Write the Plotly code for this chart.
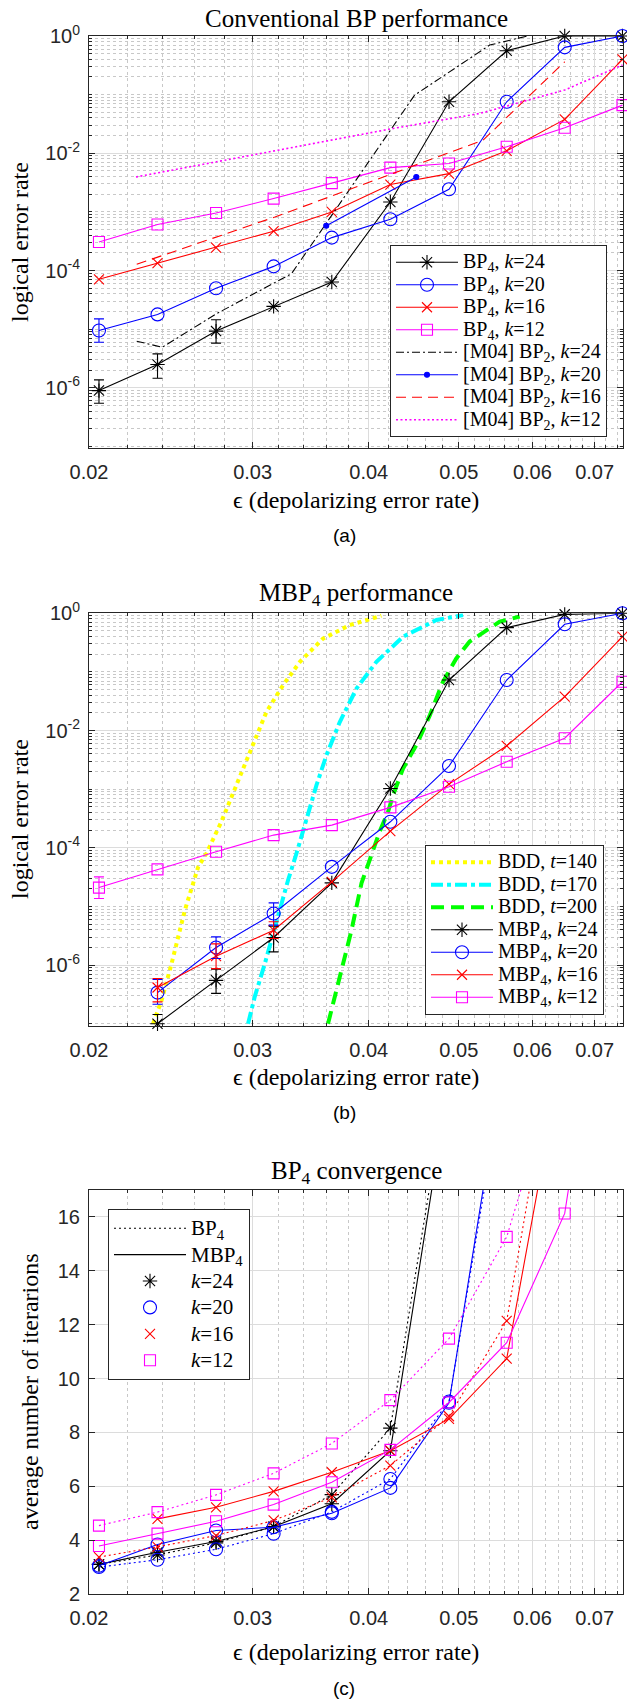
import math
import plotly.graph_objects as go

# ---------------------------------------------------------------------------
# Data
# ---------------------------------------------------------------------------
# depolarizing error rates used by the BP4 / MBP4 simulations
eps = [0.0205, 0.0237, 0.0274, 0.0316, 0.0365, 0.0422, 0.0488, 0.0563, 0.0650, 0.0750]

# (a) conventional BP4, logical error rate
bp4_k24 = [9.0e-7, 2.5e-6, 9.3e-6, 2.45e-5, 6.4e-5, 1.48e-3, 0.0755, 0.561, 1.0, 1.0]
bp4_k20 = [9.5e-6, 1.79e-5, 5.0e-5, 1.18e-4, 3.65e-4, 7.5e-4, 2.44e-3, 0.0755, 0.64, 1.0]
bp4_k16 = [7.1e-5, 1.34e-4, 2.46e-4, 4.7e-4, 1.0e-3, 2.93e-3, 4.5e-3, 0.011, 0.0378, 0.40]
bp4_k12 = [3.07e-4, 6.1e-4, 9.6e-4, 1.69e-3, 3.1e-3, 5.7e-3, 6.7e-3, 0.0129, 0.0272, 0.0663]

# confidence intervals (first points only)
bp4_k24_hi = [1.37e-6, 3.8e-6, 1.45e-5]
bp4_k24_lo = [5.46e-7, 1.46e-6, 5.8e-6]
bp4_k20_hi = [1.5e-5]
bp4_k20_lo = [6.0e-6]

# [M04] BP2 reference curves
m04_k24_eps = [0.02251, 0.02399, 0.02743, 0.03303, 0.04481, 0.05398, 0.0593]
m04_k24 = [6.25e-6, 4.94e-6, 1.84e-5, 8.85e-5, 0.098, 0.70, 1.0]
m04_k20_eps = [0.0360, 0.0450]
m04_k20 = [5.8e-4, 3.95e-3]
m04_k16_eps = [0.02251, 0.0317, 0.0531, 0.0650]
m04_k16 = [1.28e-4, 8.2e-4, 0.01675, 0.364]
m04_k12_eps = [0.02247, 0.0313, 0.0425, 0.0527, 0.0650, 0.0750]
m04_k12 = [3.95e-3, 0.01056, 0.0265, 0.0479, 0.12, 0.32]

# (b) MBP4, logical error rate
mbp4_k24 = [1.0e-7, 5.5e-7, 2.96e-6, 2.53e-5, 1.03e-3, 0.0728, 0.57, 0.96, 1.0]
mbp4_k20 = [3.4e-7, 2.0e-6, 7.6e-6, 4.74e-5, 2.78e-4, 2.48e-3, 0.0728, 0.65, 1.0]
mbp4_k16 = [4.15e-7, 1.42e-6, 3.94e-6, 2.63e-5, 1.93e-4, 1.22e-3, 5.5e-3, 0.0378, 0.40]
mbp4_k12 = [2.1e-5, 4.3e-5, 8.6e-5, 1.65e-4, 2.44e-4, 4.9e-4, 1.1e-3, 2.94e-3, 7.4e-3, 0.068]

mbp4_k24_hi = [1.44e-7, 8.5e-7, 4.6e-6]
mbp4_k24_lo = [7.0e-8, 3.3e-7, 1.68e-6]
mbp4_k20_hi = [5.7e-7, 3.03e-6, 1.15e-5]
mbp4_k20_lo = [2.15e-7, 1.3e-6, 4.8e-6]
mbp4_k16_hi = [5.9e-7, 2.3e-6, 5.5e-6]
mbp4_k16_lo = [2.36e-7, 8.7e-7, 2.85e-6]
mbp4_k12_hi = [3.2e-5]
mbp4_k12_lo = [1.37e-5]

# bounded-distance decoding curves
bdd140_eps = [0.02344, 0.02394, 0.02454, 0.02536, 0.02621, 0.02675, 0.02776, 0.02882,
              0.02979, 0.03105, 0.03236, 0.03373, 0.03571, 0.03816, 0.04127]
bdd140 = [1.0e-7, 2.5e-7, 1.06e-6, 8.6e-6, 4.7e-5, 8.0e-5, 2.78e-4, 1.17e-3,
          4.3e-3, 0.021, 0.06, 0.149, 0.37, 0.63, 0.91]
bdd170_eps = [0.02966, 0.03016, 0.03092, 0.03182, 0.03275, 0.03344, 0.03428, 0.03514,
              0.03602, 0.03723, 0.0388, 0.04077, 0.04355, 0.04731, 0.05053]
bdd170 = [1.0e-7, 2.9e-7, 1.06e-6, 5.8e-6, 2.8e-5, 8.0e-5, 3.2e-4, 1.17e-3,
          3.8e-3, 0.014, 0.052, 0.149, 0.40, 0.77, 0.93]
bdd200_eps = [0.03616, 0.03661, 0.03738, 0.03832, 0.03929, 0.04043, 0.0411, 0.04196,
              0.04248, 0.04355, 0.04502, 0.04652, 0.04807, 0.04969, 0.05136, 0.05533, 0.05814]
bdd200 = [1.0e-7, 2.2e-7, 8.2e-7, 3.9e-6, 2.5e-5, 9.8e-5, 1.9e-4, 4.1e-4,
          7.9e-4, 2.26e-3, 5.7e-3, 0.018, 0.068, 0.17, 0.33, 0.72, 0.88]

# (c) average number of iterations
bp4_it_k24 = [3.1, 3.45, 3.9, 4.5, 5.69, 8.16, 21.5]
mbp4_it_k24 = [3.1, 3.55, 3.95, 4.5, 5.35, 7.32, 21.05]
bp4_it_k20 = [3.0, 3.27, 3.66, 4.24, 5.05, 6.27, 9.15, 22.0]
mbp4_it_k20 = [3.05, 3.84, 4.36, 4.48, 5.0, 5.94, 9.1, 22.5]
bp4_it_k16 = [3.37, 3.75, 4.17, 4.73, 5.59, 6.77, 8.6, 12.14, 24.6]
mbp4_it_k16 = [4.79, 5.22, 5.81, 6.52, 7.32, 8.50, 10.74, 22.5]   # from eps[1]
bp4_it_k12 = [4.54, 5.04, 5.68, 6.48, 7.59, 9.2, 11.48, 15.26, 22.4]
mbp4_it_k12 = [3.78, 4.24, 4.70, 5.32, 6.15, 7.35, 9.11, 11.33, 16.13, 30.0]

x_ticks = [0.02, 0.03, 0.04, 0.05, 0.06, 0.07]
x_ticktext = ["0.02", "0.03", "0.04", "0.05", "0.06", "0.07"]
y_log_ticks = [1e-6, 1e-4, 1e-2, 1.0]
y_log_ticktext = ["10<sup>-6</sup>", "10<sup>-4</sup>", "10<sup>-2</sup>", "10<sup>0</sup>"]
y_it_ticks = [2, 4, 6, 8, 10, 12, 14, 16]

# ---------------------------------------------------------------------------
# Geometry helpers (pixel -> paper)
# ---------------------------------------------------------------------------
W, H = 627, 1700
ML, MR, MT, MB = 89, 4, 36, 106
PW = W - ML - MR
PH = H - MT - MB


def px_x(px):
    return (px - ML) / PW


def px_y(py):
    return (H - MB - py) / PH


BLACK, BLUE, RED, MAG = "#000000", "#0000ff", "#ff0000", "#ff00ff"
AXC = "#262626"
SERIF = "Liberation Serif"
SANS = "Liberation Sans"

MK = {
    "ast": dict(symbol="asterisk-open", size=12),
    "o": dict(symbol="circle-open", size=13),
    "x": dict(symbol="x-thin-open", size=10),
    "s": dict(symbol="square-open", size=11),
}


def lg(text, size=20):
    return f'<span style="font-size:{size}px">{text}</span>'


fig = go.Figure()


def series(x, y, color, mk, name, xa, ya, legend, dash="solid", width=1.1,
           showlegend=True, clip=False, mode=None, msize=None):
    marker = dict(color=color, line=dict(color=color, width=1.1))
    if mk is not None:
        marker.update(MK[mk] if isinstance(mk, str) else mk)
    if msize:
        marker["size"] = msize
    fig.add_trace(go.Scatter(
        x=x, y=y, name=name,
        mode=mode or ("lines+markers" if mk is not None else "lines"),
        line=dict(color=color, width=width, dash=dash),
        marker=marker, xaxis=xa, yaxis=ya, legend=legend,
        showlegend=showlegend, cliponaxis=clip, hoverinfo="skip"))


def errbars(x, y, hi, lo, color, xa, ya):
    fig.add_trace(go.Scatter(
        x=x, y=y, mode="markers",
        marker=dict(size=1, color="rgba(0,0,0,0)"),
        error_y=dict(type="data", symmetric=False,
                     array=[h - v for h, v in zip(hi, y)],
                     arrayminus=[v - l for v, l in zip(y, lo)],
                     color=color, thickness=1.1, width=5),
        xaxis=xa, yaxis=ya, showlegend=False, cliponaxis=False, hoverinfo="skip"))


# ---------------------------------------------------------------------------
# (a) Conventional BP performance
# ---------------------------------------------------------------------------
series(eps, bp4_k24, BLACK, "ast", lg("BP<sub>4</sub>, <i>k</i>=24"), "x", "y", "legend")
series(eps, bp4_k20, BLUE, "o", lg("BP<sub>4</sub>, <i>k</i>=20"), "x", "y", "legend")
series(eps, bp4_k16, RED, "x", lg("BP<sub>4</sub>, <i>k</i>=16"), "x", "y", "legend")
series(eps, bp4_k12, MAG, "s", lg("BP<sub>4</sub>, <i>k</i>=12"), "x", "y", "legend")
series(m04_k24_eps, m04_k24, BLACK, None, lg("[M04] BP<sub>2</sub>, <i>k</i>=24"), "x", "y",
       "legend", dash="8px,3px,2px,3px")
series(m04_k20_eps, m04_k20, BLUE, dict(symbol="circle", size=5),
       lg("[M04] BP<sub>2</sub>, <i>k</i>=20"), "x", "y", "legend")
series(m04_k16_eps, m04_k16, RED, None, lg("[M04] BP<sub>2</sub>, <i>k</i>=16"), "x", "y",
       "legend", dash="10px,6px")
series(m04_k12_eps, m04_k12, MAG, None, lg("[M04] BP<sub>2</sub>, <i>k</i>=12"), "x", "y",
       "legend", dash="2px,2.5px", width=1.6)
errbars(eps[:3], bp4_k24[:3], bp4_k24_hi, bp4_k24_lo, BLACK, "x", "y")
errbars(eps[:1], bp4_k20[:1], bp4_k20_hi, bp4_k20_lo, BLUE, "x", "y")

# ---------------------------------------------------------------------------
# (b) MBP4 performance
# ---------------------------------------------------------------------------
series(bdd140_eps, bdd140, "#ffff00", None, lg("BDD, <i>t</i>=140"), "x2", "y2", "legend2",
       dash="dot", width=4)
series(bdd170_eps, bdd170, "#00ffff", None, lg("BDD, <i>t</i>=170"), "x2", "y2", "legend2",
       dash="dashdot", width=4)
series(bdd200_eps, bdd200, "#00ff00", None, lg("BDD, <i>t</i>=200"), "x2", "y2", "legend2",
       dash="13px,7px", width=4)
series(eps[1:], mbp4_k24, BLACK, "ast", lg("MBP<sub>4</sub>, <i>k</i>=24"), "x2", "y2", "legend2")
series(eps[1:], mbp4_k20, BLUE, "o", lg("MBP<sub>4</sub>, <i>k</i>=20"), "x2", "y2", "legend2")
series(eps[1:], mbp4_k16, RED, "x", lg("MBP<sub>4</sub>, <i>k</i>=16"), "x2", "y2", "legend2")
series(eps, mbp4_k12, MAG, "s", lg("MBP<sub>4</sub>, <i>k</i>=12"), "x2", "y2", "legend2")
errbars(eps[1:4], mbp4_k24[:3], mbp4_k24_hi, mbp4_k24_lo, BLACK, "x2", "y2")
errbars(eps[1:4], mbp4_k20[:3], mbp4_k20_hi, mbp4_k20_lo, BLUE, "x2", "y2")
errbars(eps[1:4], mbp4_k16[:3], mbp4_k16_hi, mbp4_k16_lo, RED, "x2", "y2")
errbars(eps[:1], mbp4_k12[:1], mbp4_k12_hi, mbp4_k12_lo, MAG, "x2", "y2")

# ---------------------------------------------------------------------------
# (c) BP4 convergence
# ---------------------------------------------------------------------------
DOT = "2px,3px"
it_sets = [
    (bp4_it_k24, eps, mbp4_it_k24, eps, BLACK, "ast"),
    (bp4_it_k20, eps, mbp4_it_k20, eps, BLUE, "o"),
    (bp4_it_k16, eps, mbp4_it_k16, eps[1:], RED, "x"),
    (bp4_it_k12, eps, mbp4_it_k12, eps, MAG, "s"),
]
for bp_y, bp_x, mbp_y, mbp_x, col, mk in it_sets:
    series(bp_x[:len(bp_y)], bp_y, col, mk, "", "x3", "y3", "legend3", dash=DOT,
           showlegend=False, clip=True)
    series(mbp_x[:len(mbp_y)], mbp_y, col, mk, "", "x3", "y3", "legend3",
           showlegend=False, clip=True)

# legend entries for panel (c)
series([None], [None], BLACK, None, lg("BP<sub>4</sub>", 21), "x3", "y3", "legend3", dash=DOT)
series([None], [None], BLACK, None, lg("MBP<sub>4</sub>", 21), "x3", "y3", "legend3")
for name, col, mk in [("24", BLACK, "ast"), ("20", BLUE, "o"), ("16", RED, "x"), ("12", MAG, "s")]:
    series([None], [None], col, mk, lg(f"<i>k</i>=" + name, 21), "x3", "y3", "legend3",
           mode="markers")

# ---------------------------------------------------------------------------
# Axes
# ---------------------------------------------------------------------------
x_minor = [round(0.002 * i, 3) for i in range(11, 38)]
x_minor = [v for v in x_minor if v not in x_ticks]
y_minor = [k * 10.0 ** e for e in range(-8, 0) for k in range(1, 10)
           if k * 10.0 ** e not in y_log_ticks]

common_axis = dict(
    showline=True, linecolor=AXC, linewidth=1, mirror="ticks",
    ticks="inside", ticklen=6, tickcolor=AXC, tickwidth=1,
    showgrid=True, gridcolor="#dcdcdc", gridwidth=1, zeroline=False,
    tickfont=dict(family=SANS, size=20, color=AXC),
)


def xaxis_cfg(anchor):
    return dict(common_axis, type="log", anchor=anchor, domain=[0, 1],
                range=[math.log10(0.02), math.log10(0.0751)],
                tickmode="array", tickvals=x_ticks, ticktext=x_ticktext,
                ticklabelstandoff=6,
                minor=dict(tickmode="array", tickvals=x_minor, ticks="inside", ticklen=3,
                           tickcolor=AXC, showgrid=True, gridcolor="#c8c8c8",
                           griddash="dot", gridwidth=1))


def ylog_cfg(domain, anchor):
    return dict(common_axis, type="log", anchor=anchor, domain=domain,
                range=[-7.03, 0], tickmode="array", tickvals=y_log_ticks,
                ticktext=y_log_ticktext, ticklabelstandoff=4,
                minor=dict(tickmode="array", tickvals=y_minor, ticks="inside", ticklen=3,
                           tickcolor=AXC, showgrid=True, gridcolor="#c8c8c8",
                           griddash="dot", gridwidth=1))


dom_a = [px_y(448.3), 1.0]
dom_b = [px_y(1025.5), px_y(613.3)]
dom_c = [0.0, px_y(1190)]

legend_common = dict(bgcolor="white", bordercolor=AXC, borderwidth=1,
                     font=dict(family=SERIF, size=15, color="black"),
                     tracegroupgap=0, traceorder="normal", xanchor="left", yanchor="top")

fig.update_layout(
    width=W, height=H, autosize=False,
    margin=dict(l=ML, r=MR, t=MT, b=MB, pad=0),
    paper_bgcolor="white", plot_bgcolor="white",
    font=dict(family=SERIF, color="black"),
    xaxis=xaxis_cfg("y"),
    yaxis=ylog_cfg(dom_a, "x"),
    xaxis2=xaxis_cfg("y2"),
    yaxis2=ylog_cfg(dom_b, "x2"),
    xaxis3=xaxis_cfg("y3"),
    yaxis3=dict(common_axis, type="linear", anchor="x3", domain=dom_c, range=[2, 17],
                tickmode="array", tickvals=y_it_ticks, ticklabelstandoff=4),
    legend=dict(legend_common, x=px_x(390), y=px_y(245), itemwidth=62),
    legend2=dict(legend_common, x=px_x(425), y=px_y(845), itemwidth=62),
    legend3=dict(legend_common, x=px_x(108), y=px_y(1209), itemwidth=72,
                 font=dict(family=SERIF, size=18, color="black")),
    showlegend=True,
)


def text(t, px, py, size=24, family=SERIF, angle=0):
    fig.add_annotation(text=t, x=px_x(px), y=px_y(py), xref="paper", yref="paper",
                       showarrow=False, xanchor="center", yanchor="middle",
                       textangle=angle, font=dict(family=family, size=size, color="black"))


cx = ML + PW / 2
text("Conventional BP performance", cx, 18, size=25)
text("MBP<sub>4</sub> performance", cx, 595, size=25)
text("BP<sub>4</sub> convergence", cx, 1172, size=25)
for yy in (500, 1077, 1652):
    text("ϵ (depolarizing error rate)", cx, yy)
text("(a)", 344, 535, size=19, family=SANS)
text("(b)", 344, 1112, size=19, family=SANS)
text("(c)", 344, 1688, size=19, family=SANS)
text("logical error rate", 20, 242, angle=-90)
text("logical error rate", 20, 819, angle=-90)
text("average number of iterarions", 30, 1392, angle=-90)

fig.write_html("out.html")
